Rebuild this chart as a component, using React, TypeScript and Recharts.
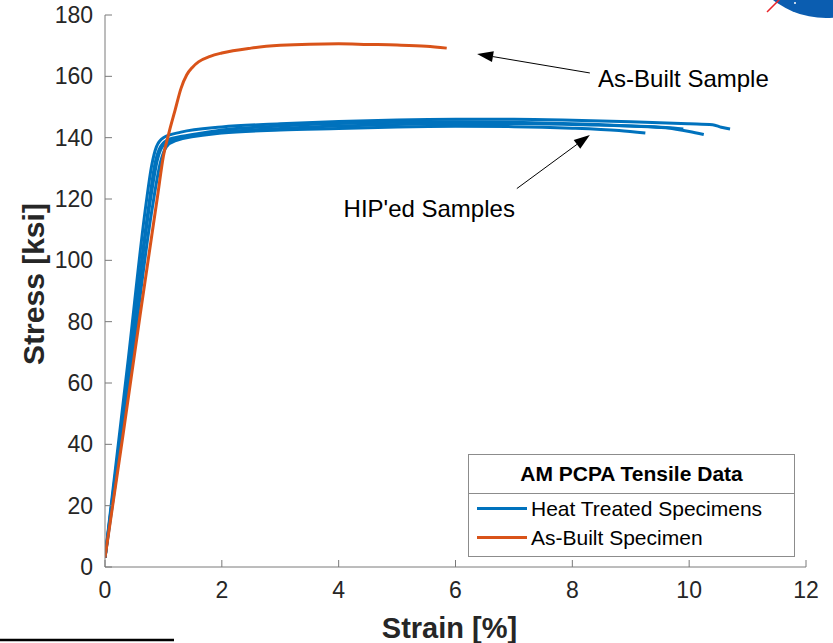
import React from "react";
import {
  LineChart,
  Line,
  XAxis,
  YAxis,
  ReferenceLine,
  ReferenceDot,
  Label,
} from "recharts";

// strain [%] / stress [ksi]
const asBuiltStrain = [0, 0.3, 0.6, 0.9, 1.0, 1.1, 1.2, 1.3, 1.4, 1.5, 1.6, 1.8, 2.0, 2.5, 3.0, 3.5, 4.0, 4.5, 5.0, 5.5, 5.85];
const asBuiltStress = [3, 42, 82, 121, 134, 142, 149, 156, 160.5, 163, 164.7, 166.5, 167.6, 169.2, 170.1, 170.5, 170.6, 170.4, 170.2, 169.8, 169.2];

const hip1Strain = [0, 0.4, 0.7, 0.8, 0.88, 1.0, 1.3, 2, 3, 4, 5, 6, 7, 8, 9, 10, 10.4, 10.55, 10.7];
const hip1Stress = [3, 68, 118, 131, 137, 140, 141.8, 143.5, 144.5, 145.3, 145.8, 146, 146, 145.7, 145.2, 144.5, 144.2, 143.4, 142.8];

const hip2Strain = [0, 0.4, 0.75, 0.85, 0.95, 1.1, 1.5, 2, 3, 4, 5, 6, 7, 8, 9, 9.6, 10, 10.25];
const hip2Stress = [3, 64, 118, 131, 137, 139.5, 141, 142.5, 143.8, 144.6, 145, 145.2, 145, 144.5, 143.8, 143.2, 142, 141];

const hip3Strain = [0, 0.4, 0.78, 0.9, 1.0, 1.2, 2, 3, 4, 5, 6, 7, 8, 9, 9.6, 9.9];
const hip3Stress = [3, 62, 120, 133, 137.5, 139.5, 141.8, 143, 143.8, 144.3, 144.6, 144.6, 144.3, 143.8, 143.3, 142.8];

const hip4Strain = [0, 0.4, 0.8, 0.95, 1.05, 1.2, 2, 3, 4, 5, 6, 7, 8, 8.8, 9.25];
const hip4Stress = [3, 58, 116, 132, 137, 139, 141.5, 142.5, 143, 143.5, 143.7, 143.6, 143.1, 142.3, 141.5];

const xTicks = [0, 2, 4, 6, 8, 10, 12];
const yTicks = [0, 20, 40, 60, 80, 100, 120, 140, 160, 180];

const BLUE = "#0072BD";
const ORANGE = "#D95319";
const AXIS = "#7a7a7a";
const TEXT = "#262626";
const FONT = "'Liberation Sans', Arial, Helvetica, sans-serif";

const toPoints = (xs: number[], ys: number[]) => xs.map((x, i) => ({ x, y: ys[i] }));

const hipCurves = [
  toPoints(hip1Strain, hip1Stress),
  toPoints(hip2Strain, hip2Stress),
  toPoints(hip3Strain, hip3Stress),
  toPoints(hip4Strain, hip4Stress),
];
const asBuilt = toPoints(asBuiltStrain, asBuiltStress);

function Arrow(props: any) {
  const { x1, y1, x2, y2 } = props;
  const ang = Math.atan2(y2 - y1, x2 - x1);
  const len = 16;
  const half = 5.5;
  const bx = x2 - len * Math.cos(ang);
  const by = y2 - len * Math.sin(ang);
  const px = -Math.sin(ang) * half;
  const py = Math.cos(ang) * half;
  return (
    <g>
      <line x1={x1} y1={y1} x2={bx} y2={by} stroke="#000" strokeWidth={1} />
      <polygon
        points={`${x2},${y2} ${bx + px},${by + py} ${bx - px},${by - py}`}
        fill="#000"
      />
    </g>
  );
}

const note = (text: string, anchor: string) => (props: any) => (
  <text
    x={props.cx}
    y={props.cy}
    fontFamily={FONT}
    fontSize={24}
    fill="#000"
    textAnchor={anchor}
    dominantBaseline="central"
  >
    {text}
  </text>
);

function Legend() {
  return (
    <div
      style={{
        position: "absolute",
        left: 468,
        top: 454,
        width: 325,
        height: 101,
        border: "1px solid #8c8c8c",
        background: "#fff",
        fontFamily: FONT,
        color: "#000",
      }}
    >
      <div
        style={{
          height: 38,
          lineHeight: "38px",
          textAlign: "center",
          fontWeight: "bold",
          fontSize: 21,
          borderBottom: "1px solid #8c8c8c",
        }}
      >
        AM PCPA Tensile Data
      </div>
      {[
        { label: "Heat Treated Specimens", color: BLUE },
        { label: "As-Built Specimen", color: ORANGE },
      ].map((item) => (
        <div
          key={item.label}
          style={{ display: "flex", alignItems: "center", height: 29, fontSize: 21 }}
        >
          <svg width={62} height={29} style={{ flex: "none" }}>
            <line x1={8} y1={14.5} x2={58} y2={14.5} stroke={item.color} strokeWidth={3} />
          </svg>
          <span>{item.label}</span>
        </div>
      ))}
    </div>
  );
}

export default function App() {
  return (
    <div style={{ position: "absolute", left: 0, top: 0, width: 833, height: 643, background: "#fff" }}>
      <LineChart width={833} height={643} margin={{ top: 15, right: 27, bottom: 0, left: 0 }}>
        <XAxis
          type="number"
          dataKey="x"
          domain={[0, 12]}
          ticks={xTicks}
          allowDataOverflow
          height={76}
          stroke={AXIS}
          tickSize={-7}
          tickMargin={22}
          tick={{ fill: TEXT, fontSize: 23, fontFamily: FONT }}
        >
          <Label
            content={(p: any) => (
              <text
                x={p.viewBox.x + p.viewBox.width / 2 - 6}
                y={p.viewBox.y + 71}
                textAnchor="middle"
                fontFamily={FONT}
                fontWeight="bold"
                fontSize={29}
                fill={TEXT}
              >
                Strain [%]
              </text>
            )}
          />
        </XAxis>
        <YAxis
          type="number"
          dataKey="y"
          domain={[0, 180]}
          ticks={yTicks}
          allowDataOverflow
          width={105}
          stroke={AXIS}
          tickSize={-7}
          tickMargin={19}
          tick={{ fill: TEXT, fontSize: 23, fontFamily: FONT }}
        >
          <Label
            content={(p: any) => {
              const cx = 33;
              const cy = p.viewBox.y + p.viewBox.height / 2 - 7;
              return (
                <text
                  x={cx}
                  y={cy}
                  transform={`rotate(-90, ${cx}, ${cy})`}
                  textAnchor="middle"
                  dominantBaseline="central"
                  fontFamily={FONT}
                  fontWeight="bold"
                  fontSize={30}
                  fill={TEXT}
                >
                  Stress [ksi]
                </text>
              );
            }}
          />
        </YAxis>
        {hipCurves.map((d, i) => (
          <Line
            key={i}
            data={d}
            dataKey="y"
            type="monotone"
            stroke={BLUE}
            strokeWidth={3}
            dot={false}
            isAnimationActive={false}
          />
        ))}
        <Line
          data={asBuilt}
          dataKey="y"
          type="monotone"
          stroke={ORANGE}
          strokeWidth={3}
          dot={false}
          isAnimationActive={false}
        />
        <ReferenceLine segment={[{ x: 8.3, y: 161.1 }, { x: 6.37, y: 167.3 }]} shape={Arrow} />
        <ReferenceLine segment={[{ x: 7.05, y: 123.4 }, { x: 8.3, y: 140.9 }]} shape={Arrow} />
        <ReferenceDot x={8.44} y={159.2} r={0} shape={note("As-Built Sample", "start")} />
        <ReferenceDot x={5.55} y={116.9} r={0} shape={note("HIP'ed Samples", "middle")} />
      </LineChart>
      <Legend />
      <svg
        width={833}
        height={643}
        style={{ position: "absolute", left: 0, top: 0, pointerEvents: "none" }}
      >
        <circle cx={826} cy={-69} r={87} fill="#0b5db0" />
        <circle cx={795} cy={3} r={1} fill="#fff" />
        <line x1={767} y1={12} x2={781} y2={-2} stroke="#e8262b" strokeWidth={1.5} />
        <line x1={0} y1={640} x2={174} y2={640} stroke="#000" strokeWidth={2.5} />
      </svg>
    </div>
  );
}
